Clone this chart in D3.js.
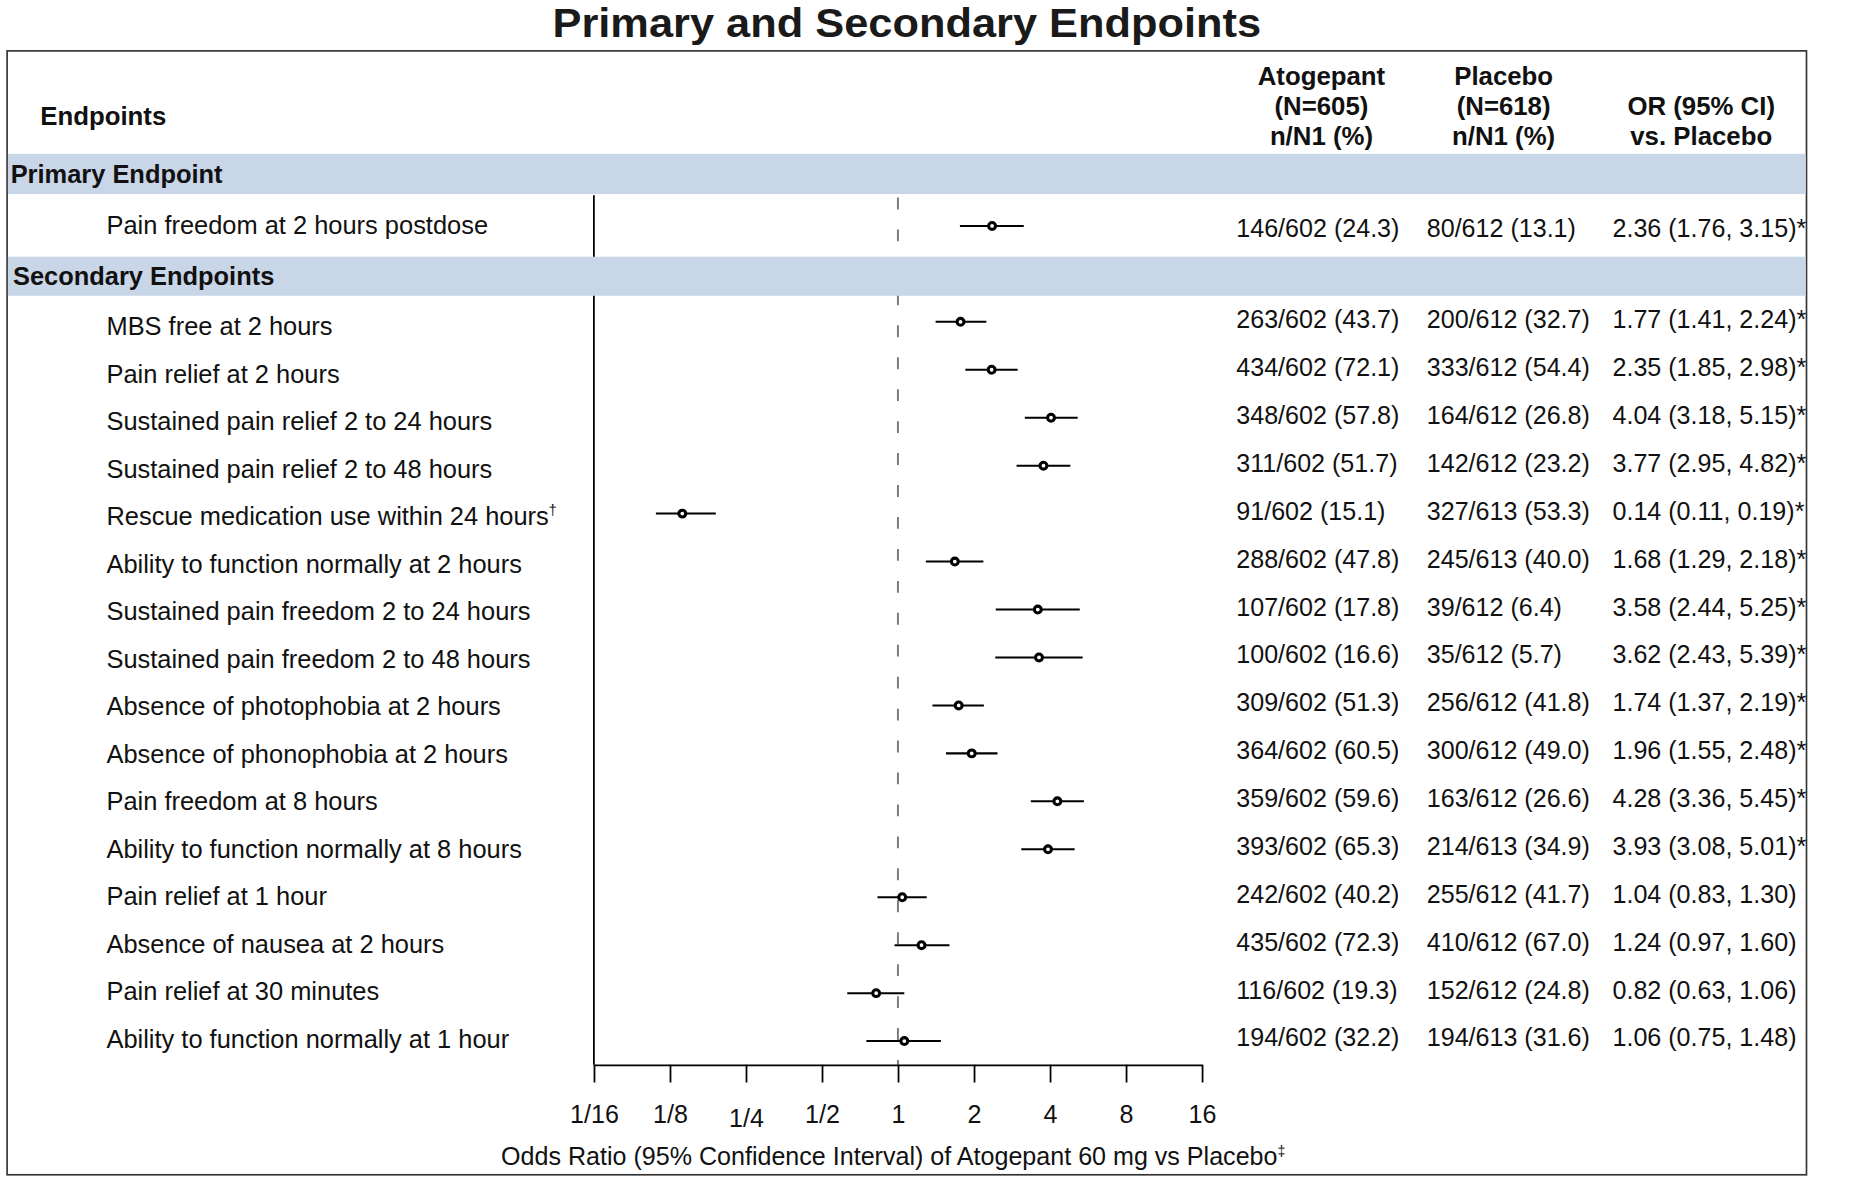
<!DOCTYPE html>
<html>
<head>
<meta charset="utf-8">
<script src="https://cdn.jsdelivr.net/npm/d3@7"></script>
<style>
  html, body { margin: 0; padding: 0; background: #fff; }
  svg { display: block; font-family: "Liberation Sans", Arial, sans-serif; }
</style>
</head>
<body>
<svg id="chart" width="1855" height="1180" viewBox="0 0 1568 997.4"></svg>
<script>
// ---------- DATA ----------
const primaryLabels = ["Pain freedom at 2 hours postdose"];
const secondaryLabels = [
  "MBS free at 2 hours",
  "Pain relief at 2 hours",
  "Sustained pain relief 2 to 24 hours",
  "Sustained pain relief 2 to 48 hours",
  "Rescue medication use within 24 hours",
  "Ability to function normally at 2 hours",
  "Sustained pain freedom 2 to 24 hours",
  "Sustained pain freedom 2 to 48 hours",
  "Absence of photophobia at 2 hours",
  "Absence of phonophobia at 2 hours",
  "Pain freedom at 8 hours",
  "Ability to function normally at 8 hours",
  "Pain relief at 1 hour",
  "Absence of nausea at 2 hours",
  "Pain relief at 30 minutes",
  "Ability to function normally at 1 hour"
];
const labelMarks = ["", "", "", "", "", "\u2020", "", "", "", "", "", "", "", "", "", "", ""];
const orValues = [2.36, 1.77, 2.35, 4.04, 3.77, 0.14, 1.68, 3.58, 3.62, 1.74, 1.96, 4.28, 3.93, 1.04, 1.24, 0.82, 1.06];
const ciLow    = [1.76, 1.41, 1.85, 3.18, 2.95, 0.11, 1.29, 2.44, 2.43, 1.37, 1.55, 3.36, 3.08, 0.83, 0.97, 0.63, 0.75];
const ciHigh   = [3.15, 2.24, 2.98, 5.15, 4.82, 0.19, 2.18, 5.25, 5.39, 2.19, 2.48, 5.45, 5.01, 1.30, 1.60, 1.06, 1.48];
const significant = [true, true, true, true, true, true, true, true, true, true, true, true, true, false, false, false, false];
const atogepantText = ["146/602 (24.3)", "263/602 (43.7)", "434/602 (72.1)", "348/602 (57.8)", "311/602 (51.7)", "91/602 (15.1)",
  "288/602 (47.8)", "107/602 (17.8)", "100/602 (16.6)", "309/602 (51.3)", "364/602 (60.5)", "359/602 (59.6)",
  "393/602 (65.3)", "242/602 (40.2)", "435/602 (72.3)", "116/602 (19.3)", "194/602 (32.2)"];
const placeboText = ["80/612 (13.1)", "200/612 (32.7)", "333/612 (54.4)", "164/612 (26.8)", "142/612 (23.2)", "327/613 (53.3)",
  "245/613 (40.0)", "39/612 (6.4)", "35/612 (5.7)", "256/612 (41.8)", "300/612 (49.0)", "163/612 (26.6)",
  "214/613 (34.9)", "255/612 (41.7)", "410/612 (67.0)", "152/612 (24.8)", "194/613 (31.6)"];
const tickValues = [1/16, 1/8, 1/4, 1/2, 1, 2, 4, 8, 16];
const tickLabels = ["1/16", "1/8", "1/4", "1/2", "1", "2", "4", "8", "16"];
const sectionTitles = ["Primary Endpoint", "Secondary Endpoints"];
const headerAto = ["Atogepant", "(N=605)", "n/N1 (%)"];
const headerPla = ["Placebo", "(N=618)", "n/N1 (%)"];
const headerOR = ["OR (95% CI)", "vs. Placebo"];
const chartTitle = "Primary and Secondary Endpoints";
const axisTitle = "Odds Ratio (95% Confidence Interval) of Atogepant 60 mg vs Placebo";

// ---------- LAYOUT ----------
const svg = d3.select("#chart");
const box = {l: 6, t: 43, r: 1527, b: 993};
const plotL = 502, plotR = 1016, axisY = 900;
const x = d3.scaleLog().base(2).domain([1/16, 16]).range([plotL, plotR]);
// mark rows and text rows (text sits on a slightly different pitch in the original)
const ySec = d3.scalePoint().domain(secondaryLabels).range([272, 880]);
const ySecLabel = d3.scalePoint().domain(secondaryLabels).range([276, 878]);
const ySecData = d3.scalePoint().domain(secondaryLabels).range([270, 877]);

const rows = [];
primaryLabels.forEach((l, i) => rows.push({label: l, i: i, y: 191, yl: 190, yd: 193}));
secondaryLabels.forEach((l, i) => rows.push({label: l, i: i + primaryLabels.length, y: ySec(l), yl: ySecLabel(l), yd: ySecData(l)}));

const fmt = d3.format(".2f");
const FS_LAB = 21.5, FS_DATA = 21.2, FS_HEAD = 21.8;

// title
svg.append("text").attr("x", 766.5).attr("y", 31).attr("text-anchor", "middle")
  .attr("font-size", 34).attr("font-weight", "bold").attr("fill", "#1a1a1a")
  .attr("textLength", 599).attr("lengthAdjust", "spacingAndGlyphs").text(chartTitle);

// outer box
svg.append("rect").attr("x", box.l).attr("y", box.t).attr("width", box.r - box.l).attr("height", box.b - box.t)
  .attr("fill", "none").attr("stroke", "#333").attr("stroke-width", 1.4);

// left vertical line of plot
svg.append("line").attr("x1", plotL).attr("x2", plotL).attr("y1", 165).attr("y2", axisY)
  .attr("stroke", "#000").attr("stroke-width", 1.5);

// dashed reference line at OR = 1
svg.append("line").attr("x1", x(1)).attr("x2", x(1)).attr("y1", 167).attr("y2", axisY)
  .attr("stroke", "#777").attr("stroke-width", 1.6).attr("stroke-dasharray", "10,17");

// section bands
const bands = [{t: 130, b: 164}, {t: 217, b: 250}];
bands.forEach((bd, k) => {
  svg.append("rect").attr("x", box.l + 0.7).attr("y", bd.t).attr("width", box.r - box.l - 1.4).attr("height", bd.b - bd.t)
    .attr("fill", "#c8d6e8");
  svg.append("text").attr("x", k === 0 ? 9 : 11).attr("y", (bd.t + bd.b) / 2 + 7.8)
    .attr("font-size", FS_LAB).attr("font-weight", "bold").attr("fill", "#111").text(sectionTitles[k]);
});

// headers
svg.append("text").attr("x", 34).attr("y", 106).attr("font-size", FS_HEAD).attr("font-weight", "bold").attr("fill", "#111").text("Endpoints");
headerAto.forEach((t, i) => svg.append("text").attr("x", 1117).attr("y", 71.5 + i * 25.5).attr("text-anchor", "middle")
  .attr("font-size", FS_HEAD).attr("font-weight", "bold").attr("fill", "#111").text(t));
headerPla.forEach((t, i) => svg.append("text").attr("x", 1271).attr("y", 71.5 + i * 25.5).attr("text-anchor", "middle")
  .attr("font-size", FS_HEAD).attr("font-weight", "bold").attr("fill", "#111").text(t));
headerOR.forEach((t, i) => svg.append("text").attr("x", 1438).attr("y", 97 + i * 25.5).attr("text-anchor", "middle")
  .attr("font-size", FS_HEAD).attr("font-weight", "bold").attr("fill", "#111").text(t));

// row labels
const lab = svg.append("g").selectAll("text").data(rows).join("text")
  .attr("x", 90).attr("y", d => d.yl + 7.5).attr("font-size", FS_LAB).attr("fill", "#111")
  .text(d => d.label);
lab.append("tspan").attr("font-size", 12).attr("dy", -9).text(d => labelMarks[d.i]);

// data columns
const dataG = svg.append("g").attr("font-size", FS_DATA).attr("fill", "#111");
dataG.selectAll("text.ato").data(rows).join("text").attr("class", "ato")
  .attr("x", 1045).attr("y", d => d.yd + 7.5).text(d => atogepantText[d.i]);
dataG.selectAll("text.pla").data(rows).join("text").attr("class", "pla")
  .attr("x", 1206).attr("y", d => d.yd + 7.5).text(d => placeboText[d.i]);
dataG.selectAll("text.or").data(rows).join("text").attr("class", "or")
  .attr("x", 1363).attr("y", d => d.yd + 7.5)
  .text(d => `${fmt(orValues[d.i])} (${fmt(ciLow[d.i])}, ${fmt(ciHigh[d.i])})${significant[d.i] ? "*" : ""}`);

// CI lines and points
const marks = svg.append("g");
marks.selectAll("line").data(rows).join("line")
  .attr("x1", d => x(ciLow[d.i])).attr("x2", d => x(ciHigh[d.i]))
  .attr("y1", d => d.y).attr("y2", d => d.y)
  .attr("stroke", "#000").attr("stroke-width", 1.7);
marks.selectAll("circle").data(rows).join("circle")
  .attr("cx", d => x(orValues[d.i])).attr("cy", d => d.y).attr("r", 2.9)
  .attr("fill", "#fff").attr("stroke", "#000").attr("stroke-width", 2.6);

// axis
const axis = d3.axisBottom(x).tickValues(tickValues).tickFormat((d, i) => tickLabels[i]).tickSize(15).tickSizeOuter(0).tickPadding(19);
const ax = svg.append("g").attr("transform", `translate(0,${axisY})`).call(axis);
ax.select(".domain").attr("stroke", "#000").attr("stroke-width", 1.6);
ax.selectAll(".tick line").attr("stroke", "#000").attr("stroke-width", 1.5);
ax.selectAll(".tick text").attr("font-size", FS_DATA).attr("fill", "#111")
  .attr("font-family", "'Liberation Sans', Arial, sans-serif")
  .attr("dy", (d, i) => i === 2 ? "0.86em" : "0.71em");

// axis title
const at = svg.append("text").attr("x", 755).attr("y", 985).attr("text-anchor", "middle")
  .attr("font-size", 21.2).attr("fill", "#111").text(axisTitle);
at.append("tspan").attr("font-size", 12).attr("dy", -8).text("\u2021");
</script>
</body>
</html>
